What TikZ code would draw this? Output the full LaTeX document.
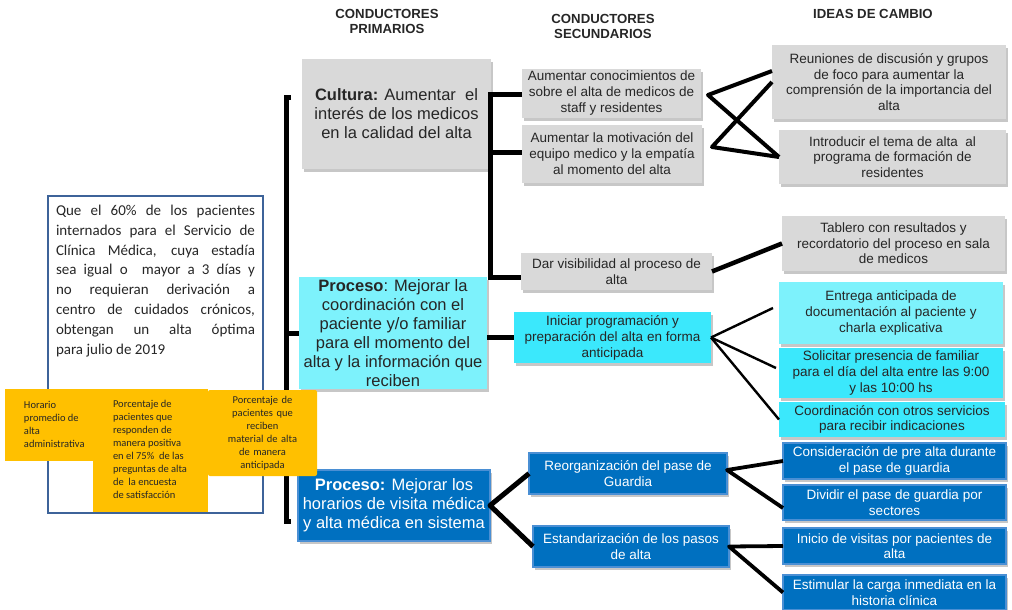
\documentclass[tikz,border=0pt]{standalone}
\usepackage{fontspec}
\setmainfont{Liberation Sans}
\newfontfamily\calib{Carlito}
\usetikzlibrary{shadows}
\definecolor{gbox}{HTML}{D9D9D9}
\definecolor{cyanA}{HTML}{7DF2FC}
\definecolor{cyanB}{HTML}{3BE8FC}
\definecolor{blueA}{HTML}{0070C0}
\definecolor{blueE}{HTML}{4A8FD4}
\definecolor{yel}{HTML}{FFC000}
\definecolor{goalE}{HTML}{3D6399}
\definecolor{txt}{HTML}{262626}
\newcommand\justline[1]{\makebox[\linewidth][s]{#1}}
\newcommand\leftlines[3]{\makebox[#1][l]{\hspace*{#2}\begin{tabular}[c]{@{}l@{}}#3\end{tabular}}}
\newcommand\bx[7]{%
  \pgfmathsetmacro\bxw{#4-#2}\pgfmathsetmacro\bxh{#5-#3}%
  \node[#6, minimum width=\bxw pt, minimum height=\bxh pt] (#1) at ({(#2+#4)/2},{(#3+#5)/2}) {#7};}
\tikzset{
  base/.style={inner sep=0pt, outer sep=0pt, align=center, text=txt,
    drop shadow={shadow xshift=1.5pt, shadow yshift=-3pt, opacity=0.22, fill=black}},
  prim/.style={base, font=\fontsize{16.5}{19}\selectfont},
  sec/.style={base, font=\fontsize{13.5}{16}\selectfont},
  idea/.style={base, font=\fontsize{13.5}{15.6}\selectfont},
  gfill/.style={fill=gbox},
  cfillA/.style={fill=cyanA},
  cfillB/.style={fill=cyanB},
  bfill/.style={fill=blueA, draw=blueE, line width=1.2pt, text=white},
  hdr/.style={align=center, text=txt, font=\bfseries\fontsize{13.2}{15}\selectfont},
  goal/.style={draw=goalE, line width=1.6pt, fill=white, inner sep=0pt, minimum width=215pt, minimum height=317pt},
  ybox/.style={fill=yel, inner sep=0pt, text=txt, font=\calib\fontsize{10.5}{13}\selectfont},
  brk/.style={line width=5pt},
  cx/.style={line width=4pt, line join=round},
  thn/.style={line width=2.4pt},
  tb/.style={line width=4.5pt},
  bl/.style={line width=5pt, line join=round},
  bl2/.style={line width=3.8pt, line join=round},
}
\begin{document}
\hyphenpenalty=10000
\begin{tikzpicture}[x=1pt,y=-1pt]
\useasboundingbox (0,0) rectangle (1012,610);
% headers
\node[hdr] (h1) at (387,21.5) {CONDUCTORES\\PRIMARIOS};
\node[hdr] (h2) at (603,26.5) {CONDUCTORES\\SECUNDARIOS};
\node[hdr] (h3) at (873,14) {IDEAS DE CAMBIO};
% goal
\node[goal] (goal) at (155.5,354.5) {\parbox[c][299pt][t]{199pt}{\calib\fontsize{15}{19.8}\selectfont\color{txt}%
\justline{Que el 60\% de los pacientes}\\
\justline{internados para el Servicio de}\\
\justline{Clínica Médica, cuya estadía}\\
\justline{sea igual o\ \ mayor a 3 días y}\\
\justline{no requieran derivación a}\\
\justline{centro de cuidados crónicos,}\\
\justline{obtengan un alta óptima}\\
para julio de 2019}};
% primary drivers
\bx{cul}{302}{59}{491}{169}{prim,gfill}{\textbf{Cultura:} Aumentar\ \ el\\interés de los medicos\\en la calidad del alta}
\bx{p1}{299}{277}{487}{389}{prim,cfillA}{\textbf{Proceso}: Mejorar la\\coordinación con el\\paciente y/o familiar\\para ell momento del\\alta y la información que\\reciben}
\bx{p3}{298}{470}{490}{541}{prim,bfill}{\textbf{Proceso:} Mejorar los\\horarios de visita médica\\y alta médica en sistema}
% secondary drivers
\bx{s1}{522}{69}{701}{118}{sec,gfill}{Aumentar conocimientos de\\sobre el alta de medicos de\\staff y residentes}
\bx{s2}{522}{125}{702}{183}{sec,gfill}{Aumentar la motivación del\\equipo medico y la empatía\\al momento del alta}
\bx{dar}{521}{253}{712}{290}{sec,gfill}{Dar visibilidad al proceso de\\alta}
\bx{ini}{514}{312}{711}{363}{sec,cfillB}{Iniciar programación y\\preparación del alta en forma\\anticipada}
\bx{reo}{529}{453}{727}{494}{sec,bfill}{Reorganización del pase de\\Guardia}
\bx{est}{533}{526}{729}{567}{sec,bfill}{Estandarización de los pasos\\de alta}
% change ideas
\bx{reu}{772}{45}{1006}{119}{idea,gfill}{Reuniones de discusión y grupos\\de foco para aumentar la\\comprensión de la importancia del\\alta}
\bx{intro}{779}{130}{1006}{184}{idea,gfill}{Introducir el tema de alta\ \ al\\programa de formación de\\residentes}
\bx{tab}{782}{216}{1005}{271}{idea,gfill}{Tablero con resultados y\\recordatorio del proceso en sala\\de medicos}
\bx{ent}{779}{282}{1003}{344}{idea,cfillA}{Entrega anticipada de\\documentación al paciente y\\charla explicativa}
\bx{sol}{779}{348}{1003}{398}{idea,cfillB}{Solicitar presencia de familiar\\para el día del alta entre las 9:00\\y las 10:00 hs}
\bx{coo}{779}{402}{1005}{437}{idea,cfillB}{Coordinación con otros servicios\\para recibir indicaciones}
\bx{con}{783}{443}{1006}{479}{idea,bfill}{Consideración de pre alta durante\\el pase de guardia}
\bx{div}{783}{485}{1006}{520}{idea,bfill}{Dividir el pase de guardia por\\sectores}
\bx{vis}{783}{528}{1006}{564}{idea,bfill}{Inicio de visitas por pacientes de\\alta}
\bx{car}{783}{575}{1006}{610}{idea,bfill}{Estimular la carga inmediata en la\\historia clínica}
% bracket 1
\coordinate (b1t) at (291,97);
\coordinate (b1b) at (291,521);
\draw[brk] (b1t) -- (286,97) -- (286,521) -- (b1b);
\coordinate (b1m) at (286,333);
\draw[brk] (b1m) -- (b1m -| p1.west);
% bracket 2
\coordinate (b2t) at (490,94);
\coordinate (b2m) at (490,152);
\coordinate (b2b) at (490,277);
\draw[brk] (b2t -| s1.west) -- (b2t) -- (b2b) -- (b2b -| dar.west);
\draw[brk] (b2m) -- (b2m -| s2.west);
\draw[brk] (p1.east |- ini.west) -- (ini.west);
% cultura crosses
\coordinate (v1) at ([xshift=7pt,yshift=-1.5pt]s1.east);
\coordinate (v2) at ([xshift=10pt,yshift=7pt]s2.east);
\draw[cx] ([yshift=11pt]reu.west) -- (v1) -- (intro.west);
\draw[cx] (reu.west) -- (v2) -- (intro.west);
% visibility
\draw[tb] (dar.east) -- (tab.west);
% iniciar
\draw[thn] (ini.east) -- ([xshift=-6pt,yshift=5pt]ent.west);
\draw[thn] (ini.east) -- ([xshift=-3pt,yshift=5pt]sol.west);
\draw[thn] (ini.east) -- (coo.west);
% blue
\draw[bl] (reo.west) -- (p3.east) -- (est.west);
\draw[bl2] (con.west) -- ([yshift=3.5pt]reo.east) -- ([yshift=-5.5pt]div.west);
\draw[bl2] (vis.west) -- (est.east) -- (car.west);
% yellow indicator boxes
\node[ybox, minimum width=88pt, minimum height=72pt] (ya) at (49,425) {\leftlines{88pt}{19pt}{Horario\\promedio de\\alta\\administrativa}};
\node[ybox, minimum width=115pt, minimum height=123pt] (yb) at (150.5,450.5) {\leftlines{115pt}{20pt}{Porcentaje de\\pacientes que\\responden de\\manera positiva\\en el 75\%\ \ de las\\preguntas de alta\\de\ \ la encuesta\\de satisfacción}};
\node[ybox, rounded corners=2pt, minimum width=109pt, minimum height=86pt, text width=109pt, align=center] (yc) at (262.5,433) {Porcentaje de\\pacientes que\\reciben\\material de alta\\de manera\\anticipada};
\end{tikzpicture}
\end{document}
